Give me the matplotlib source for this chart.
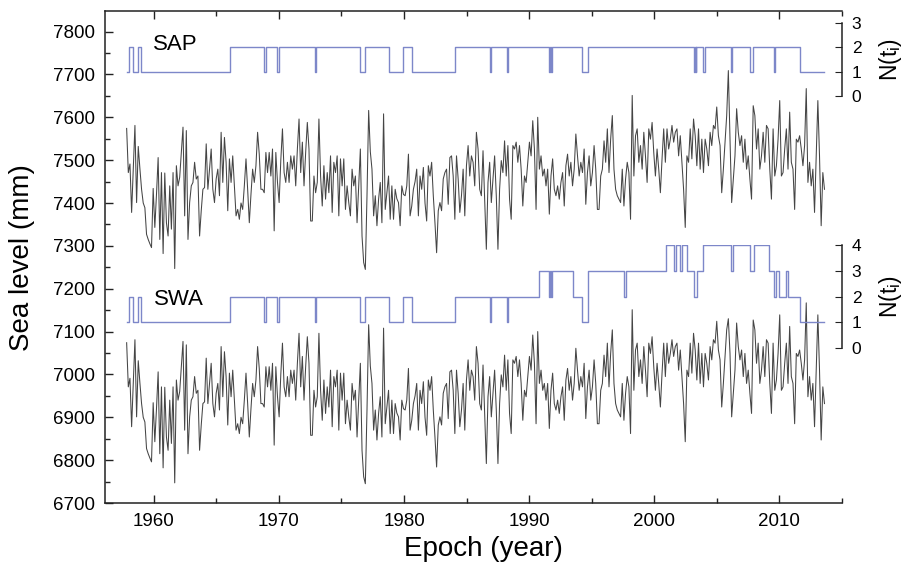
import numpy as np
import matplotlib
matplotlib.use('Agg')
import matplotlib.pyplot as plt
from matplotlib.ticker import MultipleLocator

plt.rcParams['font.family'] = ['Liberation Sans', 'DejaVu Sans']
plt.rcParams['mathtext.fontset'] = 'custom'
plt.rcParams['mathtext.rm'] = 'Liberation Sans'
plt.rcParams['mathtext.it'] = 'Liberation Sans'

# ---- data ----
t_start, t_end = 1957.83, 2013.60

sap_level = [
    7574, 7471, 7491, 7378, 7479, 7581, 7401, 7532, 7480, 7432,
    7400, 7389, 7327, 7315, 7305, 7296, 7434, 7343, 7420, 7506,
    7315, 7471, 7282, 7470, 7354, 7323, 7440, 7339, 7471, 7247,
    7487, 7440, 7460, 7520, 7577, 7370, 7569, 7315, 7401, 7440,
    7448, 7495, 7456, 7463, 7323, 7382, 7432, 7436, 7538, 7432,
    7480, 7526, 7432, 7401, 7456, 7479, 7417, 7565, 7448, 7553,
    7495, 7382, 7503, 7448, 7510, 7440, 7370, 7385, 7362, 7400,
    7385, 7440, 7503, 7432, 7354, 7420, 7479, 7448, 7487, 7565,
    7514, 7432, 7432, 7424, 7518, 7471, 7518, 7463, 7526, 7335,
    7518, 7448, 7401, 7500, 7573, 7471, 7448, 7495, 7448, 7510,
    7479, 7510, 7440, 7526, 7596, 7471, 7542, 7440, 7518, 7588,
    7526, 7358, 7358, 7463, 7424, 7448, 7596, 7463, 7393, 7487,
    7409, 7471, 7424, 7510, 7378, 7495, 7471, 7510, 7370, 7503,
    7440, 7503, 7385, 7440, 7401, 7370, 7479, 7440, 7463, 7354,
    7440, 7526, 7323, 7261, 7245, 7417,
    7616, 7520, 7479, 7370, 7417, 7347, 7409, 7448, 7354, 7608,
    7385, 7424, 7463, 7362, 7440, 7362, 7432, 7410, 7401, 7347,
    7440, 7420, 7417, 7440, 7514, 7370, 7393, 7432, 7450, 7479,
    7370, 7463, 7432, 7483, 7400, 7358, 7487, 7463, 7495, 7417,
    7354, 7284, 7382, 7401, 7382, 7456, 7471, 7479, 7397, 7506,
    7510, 7463, 7362, 7510, 7456, 7378, 7417, 7479, 7370, 7487,
    7534, 7463, 7510, 7495, 7440, 7565, 7526, 7432, 7417, 7522,
    7409, 7292, 7448, 7495, 7401, 7456, 7510, 7417, 7292, 7432,
    7499, 7471, 7545, 7463, 7534, 7409, 7362, 7534, 7526, 7542,
    7495, 7534, 7479, 7393, 7463, 7448, 7495, 7542, 7510, 7592,
    7526, 7385, 7600, 7479, 7510, 7463, 7479, 7440, 7479, 7374,
    7463, 7503, 7432, 7417, 7440, 7409, 7448, 7471, 7393, 7487,
    7514, 7463, 7495, 7440, 7479, 7561, 7510, 7463, 7495, 7471,
    7526, 7397, 7471, 7510, 7440, 7471, 7534, 7479, 7385, 7385,
    7463, 7479, 7545, 7495, 7573, 7471, 7549, 7604, 7479, 7432,
    7417, 7409, 7401, 7479, 7393, 7456, 7495, 7471, 7362, 7651,
    7463, 7557,
    7573, 7495, 7534, 7479, 7565, 7510, 7448, 7573, 7549, 7588,
    7518, 7463, 7526, 7479, 7424, 7503, 7573, 7495, 7573, 7526,
    7549, 7581, 7542, 7565, 7573, 7510, 7557, 7495, 7432, 7343,
    7510, 7495, 7573, 7503, 7596, 7557, 7487, 7573, 7479, 7549,
    7471, 7549, 7526, 7487, 7565, 7534, 7581, 7573, 7624, 7557,
    7534, 7424, 7479, 7542, 7604, 7709, 7549, 7401, 7456, 7510,
    7620, 7565, 7534, 7557, 7495, 7549, 7479, 7510, 7456, 7409,
    7627, 7604, 7526, 7573, 7479, 7510, 7565, 7495, 7581, 7573,
    7479, 7409, 7573, 7463, 7487, 7549, 7639, 7463, 7471, 7526,
    7573, 7479, 7612, 7495, 7479, 7385, 7549, 7542, 7557, 7526,
    7487, 7534, 7667, 7448, 7495, 7440, 7479, 7378, 7510, 7639,
    7510, 7347, 7471, 7432,
]

swa_level = [
    7074, 6971, 6991, 6878, 6979, 7081, 6901, 7032, 6980, 6932,
    6900, 6889, 6827, 6815, 6805, 6796, 6934, 6843, 6920, 7006,
    6815, 6971, 6782, 6970, 6854, 6823, 6940, 6839, 6971, 6747,
    6987, 6940, 6960, 7020, 7077, 6870, 7069, 6815, 6901, 6940,
    6948, 6995, 6956, 6963, 6823, 6882, 6932, 6936, 7038, 6932,
    6980, 7026, 6932, 6901, 6956, 6979, 6917, 7065, 6948, 7053,
    6995, 6882, 7003, 6948, 7010, 6940, 6870, 6885, 6862, 6900,
    6885, 6940, 7003, 6932, 6854, 6920, 6979, 6948, 6987, 7065,
    7014, 6932, 6932, 6924, 7018, 6971, 7018, 6963, 7026, 6835,
    7018, 6948, 6901, 7000, 7073, 6971, 6948, 6995, 6948, 7010,
    6979, 7010, 6940, 7026, 7096, 6971, 7042, 6940, 7018, 7088,
    7026, 6858, 6858, 6963, 6924, 6948, 7096, 6963, 6893, 6987,
    6909, 6971, 6924, 7010, 6878, 6995, 6971, 7010, 6870, 7003,
    6940, 7003, 6885, 6940, 6901, 6870, 6979, 6940, 6963, 6854,
    6940, 7026, 6823, 6761, 6745, 6917,
    7116, 7020, 6979, 6870, 6917, 6847, 6909, 6948, 6854, 7108,
    6885, 6924, 6963, 6862, 6940, 6862, 6932, 6910, 6901, 6847,
    6940, 6920, 6917, 6940, 7014, 6870, 6893, 6932, 6950, 6979,
    6870, 6963, 6932, 6983, 6900, 6858, 6987, 6963, 6995, 6917,
    6854, 6784, 6882, 6901, 6882, 6956, 6971, 6979, 6897, 7006,
    7010, 6963, 6862, 7010, 6956, 6878, 6917, 6979, 6870, 6987,
    7034, 6963, 7010, 6995, 6940, 7065, 7026, 6932, 6917, 7022,
    6909, 6792, 6948, 6995, 6901, 6956, 7010, 6917, 6792, 6932,
    6999, 6971, 7045, 6963, 7034, 6909, 6862, 7034, 7026, 7042,
    6995, 7034, 6979, 6893, 6963, 6948, 6995, 7042, 7010, 7092,
    7026, 6885, 7100, 6979, 7010, 6963, 6979, 6940, 6979, 6874,
    6963, 7003, 6932, 6917, 6940, 6909, 6948, 6971, 6893, 6987,
    7014, 6963, 6995, 6940, 6979, 7061, 7010, 6963, 6995, 6971,
    7026, 6897, 6971, 7010, 6940, 6971, 7034, 6979, 6885, 6885,
    6963, 6979, 7045, 6995, 7073, 6971, 7049, 7104, 6979, 6932,
    6917, 6909, 6901, 6979, 6893, 6956, 6995, 6971, 6862, 7151,
    6963, 7057,
    7073, 6995, 7034, 6979, 7065, 7010, 6948, 7073, 7049, 7088,
    7018, 6963, 7026, 6979, 6924, 7003, 7073, 6995, 7073, 7026,
    7049, 7081, 7042, 7065, 7073, 7010, 7057, 6995, 6932, 6843,
    7010, 6995, 7073, 7003, 7096, 7057, 6987, 7073, 6979, 7049,
    6971, 7049, 7026, 6987, 7065, 7034, 7081, 7073, 7124, 7057,
    7034, 6924, 6979, 7042, 7104, 7130, 7049, 6901, 6956, 7010,
    7120, 7065, 7034, 7057, 6995, 7049, 6979, 7010, 6956, 6909,
    7127, 7104, 7026, 7073, 6979, 7010, 7065, 6995, 7081, 7073,
    6979, 6909, 7073, 6963, 6987, 7049, 7139, 6963, 6971, 7026,
    7073, 6979, 7112, 6995, 6979, 6885, 7049, 7042, 7057, 7026,
    6987, 7034, 7167, 6948, 6995, 6940, 6979, 6878, 7010, 7139,
    7010, 6847, 6971, 6932,
]

sap_n_t = [1957.83, 1958.0, 1958.3, 1958.75, 1958.95, 1966.05, 1968.8, 1968.95,
           1969.85, 1970.0, 1972.9, 1973.0, 1976.5, 1976.85, 1978.8, 1979.9,
           1980.65, 1984.05, 1986.85, 1986.95, 1988.2, 1988.3, 1991.6, 1991.68,
           1991.75, 1991.83, 1994.2, 1994.7, 2003.15, 2003.22, 2003.3, 2003.37,
           2003.9, 2004.05, 2006.1, 2006.2, 2007.65, 2007.85, 2009.55, 2009.65,
           2011.65, 2013.60]
sap_n_v = [1, 2] * 20 + [1, 1]

swa_n_t = [1957.83, 1958.0, 1958.3, 1958.75, 1958.95, 1966.05, 1968.8, 1968.95,
           1969.85, 1970.0, 1972.9, 1973.0, 1976.5, 1976.85, 1978.8, 1979.9,
           1980.65, 1984.05, 1986.85, 1986.95, 1988.2, 1988.3, 1990.75, 1991.6,
           1991.68, 1991.75, 1991.83, 1993.5, 1994.2, 1994.7, 1997.6, 1997.7,
           2000.95, 2001.55, 2001.7, 2002.05, 2002.2, 2002.65, 2003.2, 2003.4,
           2003.9, 2006.1, 2006.3, 2007.65, 2008.0, 2009.2, 2009.6, 2009.7,
           2009.95, 2010.5, 2010.65, 2011.65, 2013.60]
swa_n_v = [1, 2] * 11 + [3, 2, 3, 2, 3, 2, 1, 3, 2, 3, 4, 3, 4, 3, 4, 3, 2, 3,
                         4, 3, 4, 3, 4, 3, 2, 3, 2, 3, 2, 1, 1]

x_major = [1960, 1970, 1980, 1990, 2000, 2010]

# ---- figure ----
W, H = 902, 567
fig = plt.figure(figsize=(W / 100, H / 100), dpi=100)

L, R, T, B = 105, 842, 11, 503
ax = fig.add_axes([L / W, 1 - B / H, (R - L) / W, (B - T) / H])

t = np.linspace(t_start, t_end, len(sap_level))
line_col = '#454545'
ax.plot(t, sap_level, color=line_col, lw=0.75)
ax.plot(t, swa_level, color=line_col, lw=0.75)

ax.set_xlim(1956.1, 2015)
ax.set_ylim(6700, 7848)
ax.set_xticks(x_major)
ax.xaxis.set_minor_locator(MultipleLocator(5))
ax.yaxis.set_major_locator(MultipleLocator(100))
ax.yaxis.set_minor_locator(MultipleLocator(50))
ax.spines['right'].set_visible(False)
for s in ['left', 'bottom', 'top']:
    ax.spines[s].set_linewidth(1.1)
    ax.spines[s].set_color('#222222')
ax.tick_params(which='both', direction='in', top=True, right=False,
               labelsize=13.5, color='#222222', width=1.0)
ax.tick_params(which='major', length=6, pad=7)
ax.tick_params(which='minor', length=3.5)

ax.text(1961.75, 7771, 'SAP', ha='center', va='center', fontsize=16)
ax.text(1962.0, 7175, 'SWA', ha='center', va='center', fontsize=16)

fig.text(22 / W, 1 - 258 / H, 'Sea level (mm)', rotation=90,
         ha='center', va='center', fontsize=20)
fig.text(483 / W, 1 - 549 / H, 'Epoch (year)', ha='center', va='center',
         fontsize=20)

blue = '#7d87c9'


def n_axes(ytop, ybot, nmax, tt, vv):
    a = fig.add_axes([L / W, 1 - ybot / H, (R - L) / W, (ybot - ytop) / H],
                     sharex=ax)
    a.patch.set_visible(False)
    a.step(tt, vv, where='post', color=blue, lw=1.0)
    a.set_ylim(0, nmax)
    a.set_yticks(range(nmax + 1))
    for s in ['left', 'top', 'bottom']:
        a.spines[s].set_visible(False)
    a.spines['right'].set_linewidth(1.1)
    a.spines['right'].set_color('#222222')
    a.yaxis.tick_right()
    a.tick_params(axis='y', direction='in', length=5, pad=7, labelsize=12.5,
                  color='#222222')
    a.tick_params(axis='x', which='both', bottom=False, top=False,
                  labelbottom=False, labeltop=False)
    fig.text(890 / W, 1 - (ytop + ybot) / 2 / H, r'N(t$_\mathregular{i}$)',
             rotation=90, ha='center', va='center', fontsize=16.5)
    return a


n_axes(22.7, 96, 3, sap_n_t, sap_n_v)
n_axes(245, 348.3, 4, swa_n_t, swa_n_v)

fig.savefig('out.png', dpi=100)
